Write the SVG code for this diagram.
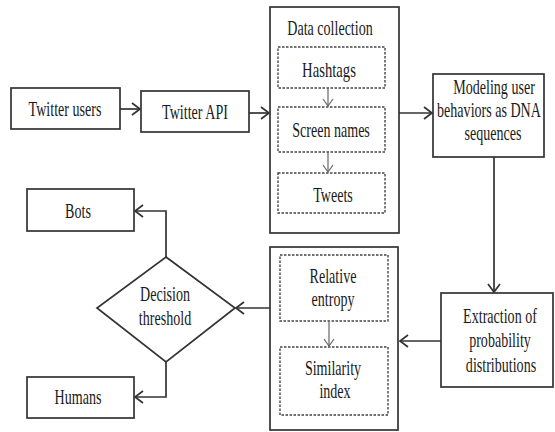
<svg xmlns="http://www.w3.org/2000/svg" width="555" height="432" viewBox="0 0 555 432">
  <style>
    .box { fill: #fff; stroke: #333; stroke-width: 1.7; }
    .dash { fill: #fff; stroke: #444; stroke-width: 1.4; stroke-dasharray: 2.5 1.5; }
    .lbl { font-family: "Liberation Serif", "Times New Roman", serif; font-size: 21px; fill: #1a1a1a; text-anchor: middle; }
    .wire { fill: none; stroke: #333; stroke-width: 1.7; }
    .wire2 { fill: none; stroke: #666; stroke-width: 1.2; }
    .head { fill: none; stroke: #333; stroke-width: 1.7; }
    .head2 { fill: none; stroke: #666; stroke-width: 1.2; }
  </style>
  <rect width="555" height="432" fill="#fff"/>

  <!-- nodes; labels use a condensed serif (horizontal scale 0.67) -->
  <g id="twitter-users">
    <rect class="box" x="11" y="88" width="109" height="41"/>
    <text class="lbl" transform="translate(65,116) scale(0.67,1)">Twitter users</text>
  </g>
  <g id="twitter-api">
    <rect class="box" x="141" y="91" width="108" height="41"/>
    <text class="lbl" transform="translate(195,119) scale(0.67,1)">Twitter API</text>
  </g>
  <g id="data-collection">
    <rect class="box" x="270" y="7" width="129" height="226"/>
    <text class="lbl" transform="translate(330,35) scale(0.67,1)">Data collection</text>
  </g>
  <g id="hashtags">
    <rect class="dash" x="278" y="47" width="107" height="41"/>
    <text class="lbl" transform="translate(329,77) scale(0.7,1)">Hashtags</text>
  </g>
  <g id="screen-names">
    <rect class="dash" x="278" y="107" width="107" height="45"/>
    <text class="lbl" transform="translate(331,137) scale(0.67,1)">Screen names</text>
  </g>
  <g id="tweets">
    <rect class="dash" x="278" y="173" width="107" height="40"/>
    <text class="lbl" transform="translate(333,202) scale(0.67,1)">Tweets</text>
  </g>
  <g id="modeling">
    <rect class="box" x="433" y="74" width="111" height="83"/>
    <text class="lbl" transform="translate(494,94) scale(0.67,1)">Modeling user</text>
    <text class="lbl" transform="translate(489,117) scale(0.67,1)">behaviors as DNA</text>
    <text class="lbl" transform="translate(493,140) scale(0.67,1)">sequences</text>
  </g>
  <g id="extraction">
    <rect class="box" x="441" y="293" width="112" height="94"/>
    <text class="lbl" transform="translate(500,323) scale(0.67,1)">Extraction of</text>
    <text class="lbl" transform="translate(500,347) scale(0.67,1)">probability</text>
    <text class="lbl" transform="translate(501,372) scale(0.67,1)">distributions</text>
  </g>
  <g id="similarity-stage">
    <rect class="box" x="270" y="247" width="128" height="183"/>
  </g>
  <g id="relative-entropy">
    <rect class="dash" x="280" y="255" width="108" height="66"/>
    <text class="lbl" transform="translate(333,283) scale(0.67,1)">Relative</text>
    <text class="lbl" transform="translate(333,306) scale(0.67,1)">entropy</text>
  </g>
  <g id="similarity-index">
    <rect class="dash" x="280" y="347" width="108" height="68"/>
    <text class="lbl" transform="translate(333,375) scale(0.67,1)">Similarity</text>
    <text class="lbl" transform="translate(335,398) scale(0.67,1)">index</text>
  </g>
  <g id="decision">
    <polygon class="box" points="166,257 235,308 166,362 97,308"/>
    <text class="lbl" transform="translate(165,301) scale(0.67,1)">Decision</text>
    <text class="lbl" transform="translate(165,325) scale(0.67,1)">threshold</text>
  </g>
  <g id="bots">
    <rect class="box" x="27" y="189" width="107" height="42"/>
    <text class="lbl" transform="translate(78,218) scale(0.67,1)">Bots</text>
  </g>
  <g id="humans">
    <rect class="box" x="27" y="377" width="107" height="41"/>
    <text class="lbl" transform="translate(78,404) scale(0.67,1)">Humans</text>
  </g>

  <!-- connectors -->
  <g id="connectors">
    <path class="wire" d="M120,109 H140"/>
    <path class="head" d="M132,103 L140,109 L132,115"/>
    <path class="wire" d="M249,113 H269"/>
    <path class="head" d="M261,107 L269,113 L261,119"/>
    <path class="wire" d="M399,113 H432"/>
    <path class="head" d="M424,107 L432,113 L424,119"/>
    <path class="wire" d="M494,157 V292"/>
    <path class="head" d="M488,284 L494,292 L500,284"/>
    <path class="wire" d="M441,341 H400"/>
    <path class="head" d="M408,335 L400,341 L408,347"/>
    <path class="wire" d="M270,308 H236"/>
    <path class="head" d="M244,302 L236,308 L244,314"/>
    <path class="wire" d="M166,257 V211 H135"/>
    <path class="head" d="M143,205 L135,211 L143,217"/>
    <path class="wire" d="M166,362 V397 H135"/>
    <path class="head" d="M143,391 L135,397 L143,403"/>
    <path class="wire2" d="M328,88 V106"/>
    <path class="head2" d="M323,99 L328,106 L333,99"/>
    <path class="wire2" d="M328,152 V172"/>
    <path class="head2" d="M323,165 L328,172 L333,165"/>
    <path class="wire2" d="M329,321 V346"/>
    <path class="head2" d="M324,339 L329,346 L334,339"/>
  </g>
</svg>
